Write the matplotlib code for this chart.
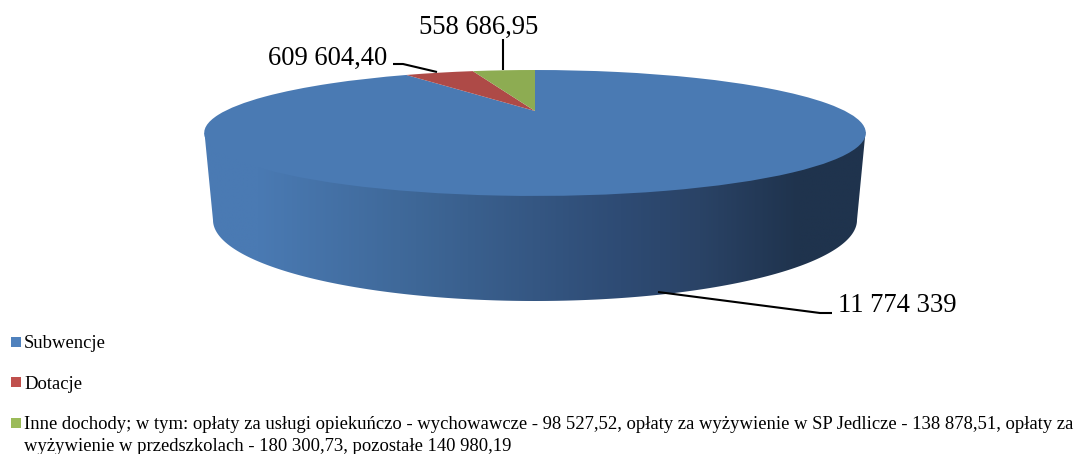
import matplotlib
matplotlib.use("Agg")
import numpy as np
import matplotlib.pyplot as plt
from matplotlib.colors import LinearSegmentedColormap
from matplotlib.patches import Polygon, Rectangle
from matplotlib.transforms import Transform

categories = ["Subwencje", "Dotacje",
              "Inne dochody; w tym: opłaty za usługi opiekuńczo - wychowawcze - 98 527,52, opłaty za wyżywienie w SP Jedlicze - 138 878,51, opłaty za\nwyżywienie w przedszkolach - 180 300,73, pozostałe 140 980,19"]
values = [11774339, 609604.40, 558686.95]
value_labels = ["11 774 339", "609 604,40", "558 686,95"]
top_colors = ["#4a7ab3", "#ae4a47", "#8dac52"]
legend_colors = ["#4f81bd", "#c0504d", "#9bbb59"]

plt.rcParams["font.family"] = ["Liberation Serif", "DejaVu Serif"]

CX, APEX_Y = 535.0, 111.0
A, B, K = 310.0, 55.3, 0.349


class Perspective(Transform):
    """Maps the unit pie disc to the tilted, foreshortened ellipse (pixel coords)."""
    input_dims = output_dims = 2

    def transform_non_affine(self, xy):
        xy = np.asarray(xy, float)
        w = 1 + K * xy[:, 1]
        return np.column_stack([CX + A * xy[:, 0] / w, APEX_Y - B * xy[:, 1] / w])


fig = plt.figure(figsize=(10.76, 4.54), dpi=100)
ax = fig.add_axes([0, 0, 1, 1])

wedges, _ = ax.pie(values, colors=top_colors, startangle=90, counterclock=False,
                   radius=1, wedgeprops=dict(linewidth=0))
persp = Perspective() + ax.transData
for w in wedges:
    w.set_transform(persp)
    w.set_zorder(3)

ax.set_aspect("auto")
ax.set_xlim(0, 1076)
ax.set_ylim(454, 0)
ax.axis("off")

# side wall with horizontal shading
t = np.linspace(np.pi, 0, 200)
bottom = np.column_stack([535 + 322 * np.cos(t), 220 + 81 * np.sin(t)])
wall_pts = np.vstack([[[204.5, 133]], bottom, [[865.5, 132]]])
wall = Polygon(wall_pts, closed=True, transform=ax.transData, facecolor="none", edgecolor="none")
ax.add_patch(wall)
stops = [(0.0, "#4a7ab3"), (0.08, "#4a7ab3"), (0.32, "#3e6797"), (0.63, "#2e4b74"),
         (0.75, "#2a4366"), (0.90, "#1f334d"), (1.0, "#1f334d")]
cmap = LinearSegmentedColormap.from_list("wall", stops)
im = ax.imshow(np.linspace(0, 1, 512)[None, :], cmap=cmap, vmin=0, vmax=1, aspect="auto",
               extent=(204, 866, 302, 130), zorder=2, interpolation="bilinear")
im.set_clip_path(wall)
ax.set_xlim(0, 1076)
ax.set_ylim(454, 0)

# leader lines
leaders = [
    ([658, 820, 832], [292, 313, 313]),
    ([393, 403, 437], [64, 64, 72]),
    ([503, 503], [39, 70]),
]
for lx, ly in leaders:
    ax.plot(lx, ly, color="black", lw=1.5, zorder=4, solid_capstyle="butt")

# data labels
label_pos = [(838, 306), (268, 58), (419, 27)]
for (x, y), s in zip(label_pos, value_labels):
    ax.text(x, y, s, fontsize=19.2, color="black", va="center", ha="left", zorder=5)

# legend
legend_y = [337, 377, 418]
text_base = [348, 389, 429]
for c, sy, by, name in zip(legend_colors, legend_y, text_base, categories):
    ax.add_patch(Rectangle((11, sy), 10, 10, facecolor=c, edgecolor="none", zorder=5))
    for i, line in enumerate(name.split("\n")):
        ax.text(24, by + 22 * i, line, fontsize=13.44, va="baseline", ha="left", color="black")

fig.savefig("out.png", dpi=100)
